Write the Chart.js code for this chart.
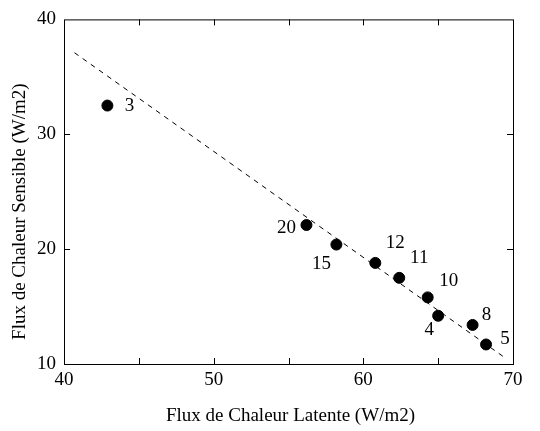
<!DOCTYPE html>
<html><head><meta charset="utf-8">
<script src="https://cdn.jsdelivr.net/npm/chart.js@4"></script>
<style>html,body{margin:0;padding:0;background:#fff}#wrap{width:540px;height:431px}</style>
</head><body><div id="wrap"><canvas id="c" width="540" height="431"></canvas></div>
<script>
// Data
const stationLabels = ['3','20','15','12','11','10','4','8','5'];
const latentFlux = [42.9, 56.2, 58.2, 60.8, 62.4, 64.3, 65.0, 67.3, 68.2];
const sensibleFlux = [32.5, 22.1, 20.4, 18.8, 17.5, 15.8, 14.2, 13.4, 11.7];
const fitLineX = [40.7, 69.4];
const fitLineY = [37.1, 10.6];
const xTicks = [40, 50, 60, 70];
const yTicks = [10, 20, 30, 40];

// label placement (pixel offsets from point centre), styling only
const labelOffsets = [[22,0],[-20,3],[-15,19],[20,-20],[20,-20],[21,-16],[-9,14],[14,-10],[19,-5]];

const FONT = '"Liberation Serif", "Times New Roman", serif';

const framePlugin = {
  id: 'frame',
  afterDraw(chart) {
    const {ctx, chartArea: a, scales: {x, y}} = chart;
    ctx.save();
    ctx.strokeStyle = '#000';
    ctx.lineWidth = 1;
    ctx.strokeRect(a.left + 0.5, a.top + 0.5, a.right - a.left, a.bottom - a.top);
    const L = 6;
    ctx.beginPath();
    x.ticks.forEach(t => {
      const px = Math.round(x.getPixelForValue(t.value)) + 0.5;
      if (px <= a.left + 1 || px >= a.right - 1) return;
      ctx.moveTo(px, a.bottom); ctx.lineTo(px, a.bottom - L);
      ctx.moveTo(px, a.top); ctx.lineTo(px, a.top + L);
    });
    y.ticks.forEach(t => {
      const py = Math.round(y.getPixelForValue(t.value)) + 0.5;
      if (py <= a.top + 1 || py >= a.bottom - 1) return;
      ctx.moveTo(a.left, py); ctx.lineTo(a.left + L, py);
      ctx.moveTo(a.right, py); ctx.lineTo(a.right - L, py);
    });
    ctx.stroke();
    // point labels
    ctx.fillStyle = '#000';
    ctx.font = '19px ' + FONT;
    ctx.textAlign = 'center';
    ctx.textBaseline = 'middle';
    const meta = chart.getDatasetMeta(1);
    meta.data.forEach((el, i) => {
      const o = labelOffsets[i];
      ctx.fillText(stationLabels[i], el.x + o[0], el.y + o[1]);
    });
    // axis titles
    ctx.font = '19px ' + FONT;
    ctx.fillText('Flux de Chaleur Latente (W/m2)', (a.left + a.right) / 2 + 2, 416);
    ctx.translate(20, (a.top + a.bottom) / 2 + 20);
    ctx.rotate(-Math.PI / 2);
    ctx.fillText('Flux de Chaleur Sensible (W/m2)', 0, 0);
    ctx.restore();
  }
};

new Chart(document.getElementById('c'), {
  type: 'scatter',
  data: {
    datasets: [
      {
        type: 'line',
        data: fitLineX.map((v, i) => ({x: v, y: fitLineY[i]})),
        borderColor: '#000', borderWidth: 1, borderDash: [5, 5],
        pointRadius: 0, fill: false
      },
      {
        data: latentFlux.map((v, i) => ({x: v, y: sensibleFlux[i]})),
        backgroundColor: '#000', borderColor: '#000',
        pointRadius: 5.5, pointHoverRadius: 5.5
      }
    ]
  },
  options: {
    responsive: false, animation: false,
    layout: {padding: {left: 0, right: 27, top: 17, bottom: 0}},
    plugins: {legend: {display: false}, tooltip: {enabled: false}},
    scales: {
      x: {
        type: 'linear', min: 40, max: 70,
        grid: {display: false, drawTicks: false},
        border: {display: false},
        afterFit(s) { s.height = 67; },
        ticks: {
          stepSize: 5, padding: 5, color: '#000', maxRotation: 0,
          font: {family: FONT, size: 19},
          callback: v => xTicks.includes(v) ? String(v) : ''
        }
      },
      y: {
        type: 'linear', min: 10, max: 40,
        grid: {display: false, drawTicks: false},
        border: {display: false},
        afterFit(s) { s.width = 64; },
        ticks: {
          stepSize: 10, padding: 8, color: '#000',
          font: {family: FONT, size: 19},
          callback: v => yTicks.includes(v) ? String(v) : ''
        }
      }
    }
  },
  plugins: [framePlugin]
});
</script>
</body></html>
